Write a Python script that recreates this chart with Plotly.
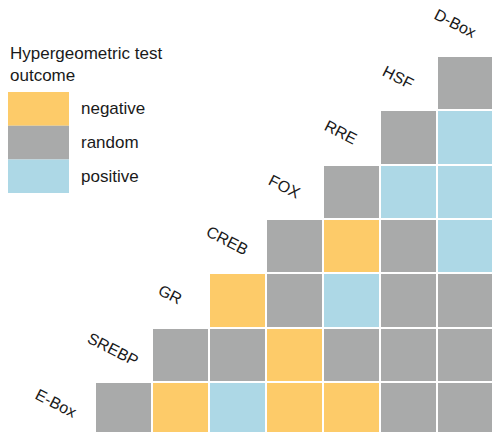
import plotly.graph_objects as go

# ---- data ----
names = ["E-Box", "SREBP", "GR", "CREB", "FOX", "RRE", "HSF", "D-Box"]
categories = ["negative", "random", "positive"]
category_colors = ["#FDCB69", "#A9AAAA", "#ADD8E6"]

# outcome of each name (row) against every later name in the list
ebox_row = ["random", "negative", "positive", "negative", "negative", "random", "random"]
srebp_row = ["random", "random", "negative", "random", "random", "random"]
gr_row = ["negative", "random", "positive", "random", "random"]
creb_row = ["random", "negative", "random", "positive"]
fox_row = ["random", "positive", "positive"]
rre_row = ["random", "positive"]
hsf_row = ["random"]

rows_by_name = [ebox_row, srebp_row, gr_row, creb_row, fox_row, rre_row, hsf_row]

# ---- build matrix (row index 0 = top = HSF, column 0 = SREBP) ----
n = len(names) - 1
z = [[None] * n for _ in range(n)]
text = [[""] * n for _ in range(n)]
for k, outcomes in enumerate(rows_by_name):
    r = n - 1 - k
    for j, o in enumerate(outcomes):
        c = k + j
        z[r][c] = categories.index(o)
        text[r][c] = f"{names[k]} vs {names[c + 1]}: {o}"

colorscale = []
for i, col in enumerate(category_colors):
    colorscale.append([i / 3, col])
    colorscale.append([(i + 1) / 3, col])

W, H = 492, 432
x0px, cw = 95, 57.0
y0px, rh = 56, 54.3

fig = go.Figure()
fig.add_trace(go.Heatmap(
    z=z,
    x=[c + 0.5 for c in range(n)],
    y=[r + 0.5 for r in range(n)],
    zmin=-0.5, zmax=2.5,
    colorscale=colorscale,
    showscale=False,
    xgap=2, ygap=2,
    text=text, hoverinfo="text",
))

font_family = "Liberation Sans, Arial, Helvetica, sans-serif"
annotations = []
for k, name in enumerate(names):
    c = k - 1
    top = n - 1 - c  # top boundary of column c (row index)
    annotations.append(dict(
        x=c + 0.5 - 0.18, y=top - 0.6, xref="x", yref="y",
        text=name, showarrow=False, textangle=27,
        xanchor="center", yanchor="middle",
        font=dict(family=font_family, size=16, color="#1a1a1a"),
    ))


def px(xp):
    return xp / W


def py(yp):
    return 1 - yp / H


annotations.append(dict(
    x=px(8), y=py(42), xref="paper", yref="paper",
    text="Hypergeometric test<br>outcome", showarrow=False,
    xanchor="left", yanchor="top", align="left",
    font=dict(family=font_family, size=17, color="#1a1a1a"),
))

shapes = []
sw_top = 92
sw_h = 33.7
for i, (cat, col) in enumerate(zip(categories, category_colors)):
    t = sw_top + i * sw_h
    shapes.append(dict(type="rect", xref="paper", yref="paper",
                       x0=px(8), x1=px(69), y0=py(t + sw_h), y1=py(t),
                       fillcolor=col, line=dict(width=0), layer="below"))
    annotations.append(dict(
        x=px(79), y=py(t + sw_h / 2), xref="paper", yref="paper",
        text=cat, showarrow=False, xanchor="left", yanchor="middle",
        font=dict(family=font_family, size=17, color="#1a1a1a"),
    ))

fig.update_layout(
    width=W, height=H,
    margin=dict(l=0, r=0, t=0, b=0),
    paper_bgcolor="white", plot_bgcolor="white",
    xaxis=dict(range=[-x0px / cw, (W - x0px) / cw], visible=False, fixedrange=True),
    yaxis=dict(range=[(H - y0px) / rh, -y0px / rh], visible=False, fixedrange=True),
    annotations=annotations,
    shapes=shapes,
    showlegend=False,
)

fig.write_html(
    "out.html",
    config={"displayModeBar": False},
    post_script="document.body.style.margin='0';document.body.style.overflow='hidden';",
)
